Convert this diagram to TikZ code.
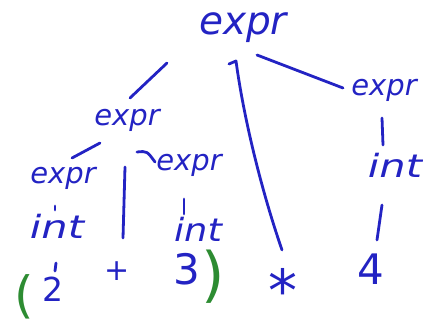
\documentclass[tikz,border=0pt]{standalone}
\usepackage{fontspec}
\setmainfont{DejaVu Sans}
\usetikzlibrary{calc}
\definecolor{ink}{RGB}{35,35,195}
\definecolor{pen}{RGB}{45,140,50}
\begin{document}
\begin{tikzpicture}[x=1pt,y=-1pt,
  txt/.style={inner sep=0pt, text=ink},
  nt/.style={txt, font=\fontsize{29}{29}\selectfont\itshape},
  bignt/.style={txt, font=\fontsize{39}{39}\selectfont\itshape},
  term/.style={txt, font=\fontsize{32}{32}\selectfont\itshape},
  digit/.style={txt, font=\fontsize{42}{42}\selectfont},
  paren/.style={inner sep=0pt, text=pen, font=\fontsize{50}{50}\selectfont},
  edge/.style={draw=ink, line width=2.8pt, line cap=round, line join=round}
]
\useasboundingbox (0,0) rectangle (423,327);
% nodes
\node[bignt] (root) at (243,28) {expr};
\node[nt] (mid) at (127,120) {expr};
\node[nt] (ll) at (63,178) {expr};
\node[nt] (lr) at (189,165) {expr};
\node[nt] (rt) at (384,90) {expr};
\node[term] (intl) at (57,226) {\scalebox{1.3}[1]{int}};
\node[term] (intm) at (198,229) {\scalebox{1.15}[1]{int}};
\node[term] (intr) at (395,165) {\scalebox{1.3}[1]{int}};
\node[digit, font=\fontsize{33}{33}\selectfont] (two) at (53,289) {2};
\node[digit, font=\fontsize{30}{30}\selectfont] (plus) at (117,271) {+};
\node[digit] (three) at (187,269) {3};
\node[digit, font=\fontsize{58}{58}\selectfont] (star) at (283,290) {*};
\node[digit] (four) at (371,269) {4};
\node[paren] (lp) at (24,297) {(};
\node[paren, font=\fontsize{60}{60}\selectfont] (rp) at (213,277) {)};
% connectors
\draw[edge] ($(root)+(-76,35)$) -- ($(mid)+(3,-22)$);
\draw[edge] ($(root)+(-14,36)$) -- ($(root)+(-7,33)$)
  .. controls ($(root)+(1,92)$) and ($(star)+(-21,-98)$) .. ($(star)+(-1,-40)$);
\draw[edge] ($(root)+(14,27)$) -- ($(rt)+(-41,-2)$);
\draw[edge] ($(mid)+(-27,23)$) -- ($(ll)+(9,-20)$);
\draw[edge] ($(mid)+(-2,47)$) -- ($(plus)+(6,-33)$);
\draw[edge] ($(mid)+(10,32)$) .. controls ($(mid)+(20,31)$) .. ($(lr)+(-34,-3)$);
\draw[edge] ($(ll)+(-8,28)$) -- ($(intl)+(-2,-16)$);
\draw[edge] ($(intl)+(-1,37)$) -- ($(two)+(2,-18)$);
\draw[edge] ($(lr)+(-5,34)$) -- ($(intm)+(-14,-15)$);
\draw[edge] ($(rt)+(-2,28)$) -- ($(intr)+(-12,-20)$);
\draw[edge] ($(intr)+(-13,40)$) -- ($(four)+(6,-29)$);
\end{tikzpicture}
\end{document}
